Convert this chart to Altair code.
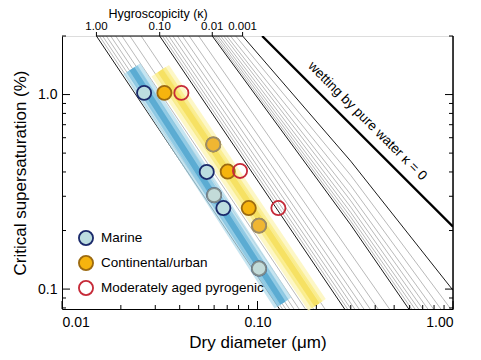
import altair as alt
import pandas as pd

W, H = 391, 273
FONT = "Liberation Sans"

# ---------------- data ----------------
kappas = [1.0, 0.9, 0.8, 0.7, 0.6, 0.5, 0.4, 0.3, 0.2,
          0.1, 0.09, 0.08, 0.07, 0.06, 0.05, 0.04, 0.03, 0.02,
          0.01, 0.009, 0.008, 0.007, 0.006, 0.005, 0.004, 0.003, 0.002, 0.001]
kappa_major = [1.0, 0.1, 0.01, 0.001]
kappa_top_Sc = 2.0
kappa_top_D = [0.0150, 0.01553, 0.01613, 0.01686, 0.01774, 0.01882, 0.02026, 0.02225, 0.0254,
               0.0316, 0.03262, 0.03379, 0.03517, 0.03683, 0.03893, 0.04135, 0.04474, 0.0500,
               0.0587, 0.0599, 0.0613, 0.0629, 0.0648, 0.0672, 0.0696, 0.0727, 0.0774, 0.0839]
kappa_mid_D = 0.3
kappa_mid_Sc = [None, None, None, None, None, None, None, None, None,
                None, None, None, None, None, None, None, None, None,
                0.2138, 0.2233, 0.2344, 0.2475, 0.2637, 0.2843, 0.306, 0.340, 0.3844, 0.4545]
kappa_end_D = [0.1295, 0.1342, 0.1395, 0.1458, 0.1536, 0.1632, 0.1758, 0.1935, 0.2214,
               0.2790, 0.2890, 0.3005, 0.3142, 0.3308, 0.3501, 0.3768, 0.4143, 0.4733,
               0.594, 0.6147, 0.639, 0.667, 0.701, 0.7436, 0.795, 0.867, 0.9745, 1.0]
kappa_end_Sc = [0.079, 0.079, 0.079, 0.079, 0.079, 0.079, 0.079, 0.079, 0.079,
                0.079, 0.079, 0.079, 0.079, 0.079, 0.079, 0.079, 0.079, 0.079,
                0.079, 0.079, 0.079, 0.079, 0.079, 0.079, 0.079, 0.079, 0.079, 0.0986]

water_D = [0.1056, 1.0]
water_Sc = [2.0, 0.2093]

marine_band_D = [0.0228, 0.1350]
marine_band_Sc = [1.357, 0.0848]
cont_band_D = [0.0318, 0.2016]
cont_band_Sc = [1.326, 0.0829]

series_names = ["Marine", "Continental/urban", "Moderately aged pyrogenic"]
marine_D = [0.0263, 0.0550, 0.0600, 0.0669, 0.1018]
marine_Sc = [1.02, 0.40, 0.304, 0.261, 0.1276]
marine_edge = ["dark", "dark", "gray", "dark", "gray"]
cont_D = [0.0334, 0.0594, 0.0704, 0.0902, 0.1018]
cont_Sc = [1.02, 0.554, 0.402, 0.261, 0.212]
cont_edge = ["dark", "gray", "dark", "dark", "gray"]
pyro_D = [0.0408, 0.0814, 0.1279]
pyro_Sc = [1.02, 0.405, 0.261]
pyro_edge = ["dark", "dark", "dark"]

x_major_ticks = [0.01, 0.1, 1.0]
x_minor_ticks = [0.02, 0.03, 0.04, 0.05, 0.06, 0.07, 0.08, 0.09,
                 0.2, 0.3, 0.4, 0.5, 0.6, 0.7, 0.8, 0.9]
y_major_ticks = [0.1, 1.0]
y_minor_ticks = [0.08, 0.09, 0.2, 0.3, 0.4, 0.5, 0.6, 0.7, 0.8, 0.9, 2.0]

kappa_labels = ["1.00", "0.10", "0.01", "0.001"]
kappa_label_D = [0.0150, 0.0316, 0.0587, 0.0839]
kappa_title = "Hygroscopicity (\u03ba)"
kappa_title_D = 0.031
water_text = "wetting by pure water \u03ba = 0"
water_text_D = 0.365
water_text_Sc = 0.73

# ---------------- tables ----------------
rows = []
for k, d0, sm, d1, s1 in zip(kappas, kappa_top_D, kappa_mid_Sc, kappa_end_D, kappa_end_Sc):
    maj = k in kappa_major
    rows.append({"kappa": k, "D": d0, "Sc": kappa_top_Sc, "o": 0, "major": maj})
    if sm is not None:
        rows.append({"kappa": k, "D": kappa_mid_D, "Sc": sm, "o": 1, "major": maj})
    rows.append({"kappa": k, "D": d1, "Sc": s1, "o": 2, "major": maj})
df_k = pd.DataFrame(rows)
df_water = pd.DataFrame({"D": water_D, "Sc": water_Sc})
df_mband = pd.DataFrame({"D": marine_band_D, "Sc": marine_band_Sc})
df_cband = pd.DataFrame({"D": cont_band_D, "Sc": cont_band_Sc})

fills = {"Marine": "#bcdde0", "Continental/urban": "#f6b40e", "Moderately aged pyrogenic": "transparent"}
edges = {"Marine": "#1b2a6b", "Continental/urban": "#9c6a10", "Moderately aged pyrogenic": "#c62a38"}
gray_fill = {"Marine": "#c3dbd9", "Continental/urban": "#f0b632"}
gray_edge = {"Marine": "#7f8c8c", "Continental/urban": "#9b8d6a"}

prow = []
for name, Ds, Ss, Es in [(series_names[0], marine_D, marine_Sc, marine_edge),
                         (series_names[1], cont_D, cont_Sc, cont_edge),
                         (series_names[2], pyro_D, pyro_Sc, pyro_edge)]:
    for d, s, e in zip(Ds, Ss, Es):
        prow.append({"D": d, "Sc": s, "series": name, "edge": e,
                     "gfill": gray_fill.get(name, "transparent"),
                     "gedge": gray_edge.get(name, "#888888")})
df_p = pd.DataFrame(prow)
df_pg = df_p[df_p["edge"] == "gray"]

# ---------------- encodings ----------------
xscale = alt.Scale(type="log", domain=[0.01, 1.0], nice=False)
yscale = alt.Scale(type="log", domain=[0.079, 2.0], nice=False)
xaxis = alt.Axis(values=x_major_ticks, format=".2f", ticks=False, grid=False,
                 labelFontSize=14, labelPadding=6, labelColor="black",
                 title="Dry diameter (\u03bcm)", titleFontSize=17, titleFontWeight="normal",
                 titlePadding=5, titleColor="black", domainColor="black", labelFont=FONT, titleFont=FONT)
yaxis = alt.Axis(values=y_major_ticks, format=".1f", ticks=False, grid=False,
                 labelFontSize=14, labelPadding=5, labelColor="black",
                 title="Critical supersaturation (%)", titleFontSize=17, titleFontWeight="normal",
                 titlePadding=8, titleColor="black", domainColor="black", labelFont=FONT, titleFont=FONT)
X = alt.X("D:Q", scale=xscale, axis=xaxis)
Y = alt.Y("Sc:Q", scale=yscale, axis=yaxis)

base_k = alt.Chart(df_k)
minor_lines = base_k.transform_filter("!datum.major").mark_line(
    color="#8a8a8a", strokeWidth=0.6, clip=True).encode(x=X, y=Y, detail="kappa:N", order="o:Q")
major_lines = base_k.transform_filter("datum.major").mark_line(
    color="black", strokeWidth=0.9, clip=True).encode(x=X, y=Y, detail="kappa:N", order="o:Q")
water_line = alt.Chart(df_water).mark_line(color="black", strokeWidth=2.3, clip=True).encode(x=X, y=Y)


def band(df, colors, widths, opac):
    layers = []
    for c, w, o in zip(colors, widths, opac):
        layers.append(alt.Chart(df).mark_line(color=c, strokeWidth=w, opacity=o,
                                              strokeCap="butt").encode(x=X, y=Y))
    return layers


mband = band(df_mband, ["#b3dcec", "#7cc0e0", "#4aa2cc"], [20, 13, 6], [0.75, 0.7, 0.75])
cband = band(df_cband, ["#fcf5b8", "#f9eb80", "#f4dc50"], [21, 13, 6], [0.8, 0.75, 0.7])

leg = alt.Legend(orient="none", legendX=16, legendY=194, title=None, labelFontSize=13.5,
                 labelFont=FONT, labelColor="black", symbolSize=200, symbolStrokeWidth=1.8,
                 labelOffset=7, rowPadding=3, padding=0, symbolType="circle", labelLimit=400)
points = alt.Chart(df_p).mark_point(filled=True, size=200, strokeWidth=1.8, opacity=1).encode(
    x=X, y=Y,
    fill=alt.Fill("series:N", scale=alt.Scale(domain=series_names, range=[fills[s] for s in series_names]),
                  legend=leg, sort=series_names),
    stroke=alt.Stroke("series:N", scale=alt.Scale(domain=series_names, range=[edges[s] for s in series_names]),
                      legend=leg, sort=series_names),
)
points_gray = alt.Chart(df_pg).mark_point(filled=True, size=200, strokeWidth=1.8, opacity=1).encode(
    x=X, y=Y,
    fill=alt.Fill("gfill:N", scale=None),
    stroke=alt.Stroke("gedge:N", scale=None),
)

# ticks (inward)
df_xmaj = pd.DataFrame({"D": x_major_ticks})
df_xmin = pd.DataFrame({"D": x_minor_ticks})
df_ymaj = pd.DataFrame({"Sc": y_major_ticks})
df_ymin = pd.DataFrame({"Sc": y_minor_ticks})
tick_layers = [
    alt.Chart(df_xmaj).mark_rule(color="black", strokeWidth=1).encode(x=X, y=alt.value(H), y2=alt.value(H - 8)),
    alt.Chart(df_xmin).mark_rule(color="black", strokeWidth=1).encode(x=X, y=alt.value(H), y2=alt.value(H - 4)),
    alt.Chart(df_ymaj).mark_rule(color="black", strokeWidth=1).encode(y=Y, x=alt.value(0), x2=alt.value(8)),
    alt.Chart(df_ymin).mark_rule(color="black", strokeWidth=1).encode(y=Y, x=alt.value(0), x2=alt.value(4)),
    alt.Chart(df_ymaj).mark_rule(color="black", strokeWidth=1).encode(y=Y, x=alt.value(W), x2=alt.value(W - 8)),
    alt.Chart(df_ymin).mark_rule(color="black", strokeWidth=1).encode(y=Y, x=alt.value(W), x2=alt.value(W - 4)),
    alt.Chart(df_ymaj).mark_rule(color="black", strokeWidth=1).encode(
        x=alt.value(W), y=alt.value(0), y2=alt.value(H)),
]

# kappa top axis
df_kaxis = pd.DataFrame({"D": [kappa_label_D[0]], "D2": [kappa_label_D[-1]], "Sc": [kappa_top_Sc]})
kaxis_line = alt.Chart(df_kaxis).mark_rule(color="black", strokeWidth=1).encode(
    x=X, x2=alt.X2("D2"), y=Y)
df_klab = pd.DataFrame({"D": kappa_label_D, "label": kappa_labels})
kaxis_ticks = alt.Chart(df_klab).mark_rule(color="black", strokeWidth=1).encode(
    x=X, y=alt.value(0), y2=alt.value(-4))
kaxis_labels = alt.Chart(df_klab).mark_text(fontSize=11.5, font=FONT, color="black", baseline="middle").encode(
    x=X, y=alt.value(-9), text="label:N")
kaxis_title = alt.Chart(pd.DataFrame({"D": [kappa_title_D], "t": [kappa_title]})).mark_text(
    fontSize=12.5, font=FONT, color="black", baseline="middle").encode(x=X, y=alt.value(-22), text="t:N")

water_label = alt.Chart(pd.DataFrame({"D": [water_text_D], "Sc": [water_text_Sc], "t": [water_text]})).mark_text(
    fontSize=13.5, font=FONT, color="black", angle=45, align="center", baseline="middle").encode(
    x=X, y=Y, text="t:N")

chart = alt.layer(
    minor_lines, major_lines, water_line, *mband, *cband, points, points_gray,
    *tick_layers, kaxis_line, kaxis_ticks, kaxis_labels, kaxis_title, water_label,
).properties(
    width=W, height=H, autosize="none",
    padding={"left": 54, "top": 28, "right": 20, "bottom": 43},
).configure_view(stroke=None).configure(font=FONT)

chart.save("out.html", embed_options={"renderer": "svg", "actions": False})
